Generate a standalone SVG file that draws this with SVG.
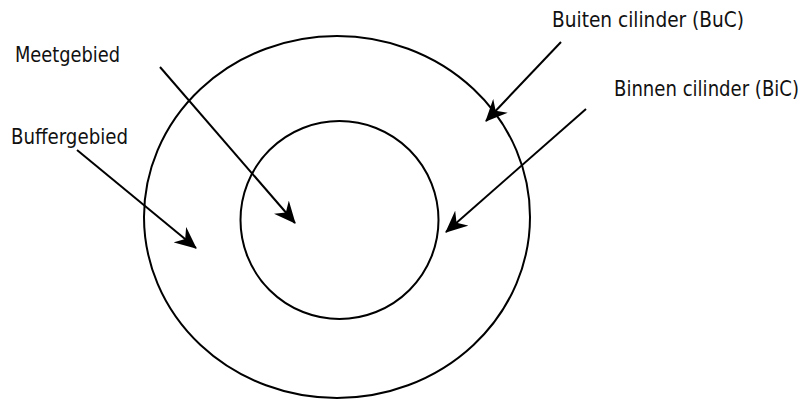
<svg xmlns="http://www.w3.org/2000/svg" width="806" height="399" viewBox="0 0 806 399">
<style>
.shape{fill:none;stroke:#000;stroke-width:2}
.conn{fill:none;stroke:#000;stroke-width:2;marker-end:url(#arr)}
.lbl{font-family:"DejaVu Sans Condensed","DejaVu Sans",sans-serif;font-size:21px;fill:#111}
</style>
<defs>
<marker id="arr" markerUnits="userSpaceOnUse" viewBox="0 0 22 20" refX="21" refY="10" markerWidth="22" markerHeight="20" orient="auto">
<path d="M0,0 L22,10 L0,20 L7,10 z" fill="#000"/>
</marker>
</defs>
<rect width="806" height="399" fill="#fff"/>
<g id="outer"><ellipse class="shape" cx="337" cy="217" rx="193" ry="181"/></g>
<g id="inner"><circle class="shape" cx="339.5" cy="220" r="99"/></g>
<g id="connectors">
<line class="conn" x1="160" y1="67" x2="295" y2="223"/>
<line class="conn" x1="77" y1="150" x2="196" y2="248"/>
<line class="conn" x1="561" y1="42" x2="486" y2="121"/>
<line class="conn" x1="586" y1="109" x2="446" y2="232"/>
</g>
<g id="label-meetgebied"><text class="lbl" x="15" y="61.5" textLength="105" lengthAdjust="spacingAndGlyphs">Meetgebied</text></g>
<g id="label-buffergebied"><text class="lbl" x="11" y="144" textLength="117" lengthAdjust="spacingAndGlyphs">Buffergebied</text></g>
<g id="label-buc"><text class="lbl" x="552" y="27" textLength="192" lengthAdjust="spacingAndGlyphs">Buiten cilinder (BuC)</text></g>
<g id="label-bic"><text class="lbl" x="614" y="96" textLength="185" lengthAdjust="spacingAndGlyphs">Binnen cilinder (BiC)</text></g>
</svg>
